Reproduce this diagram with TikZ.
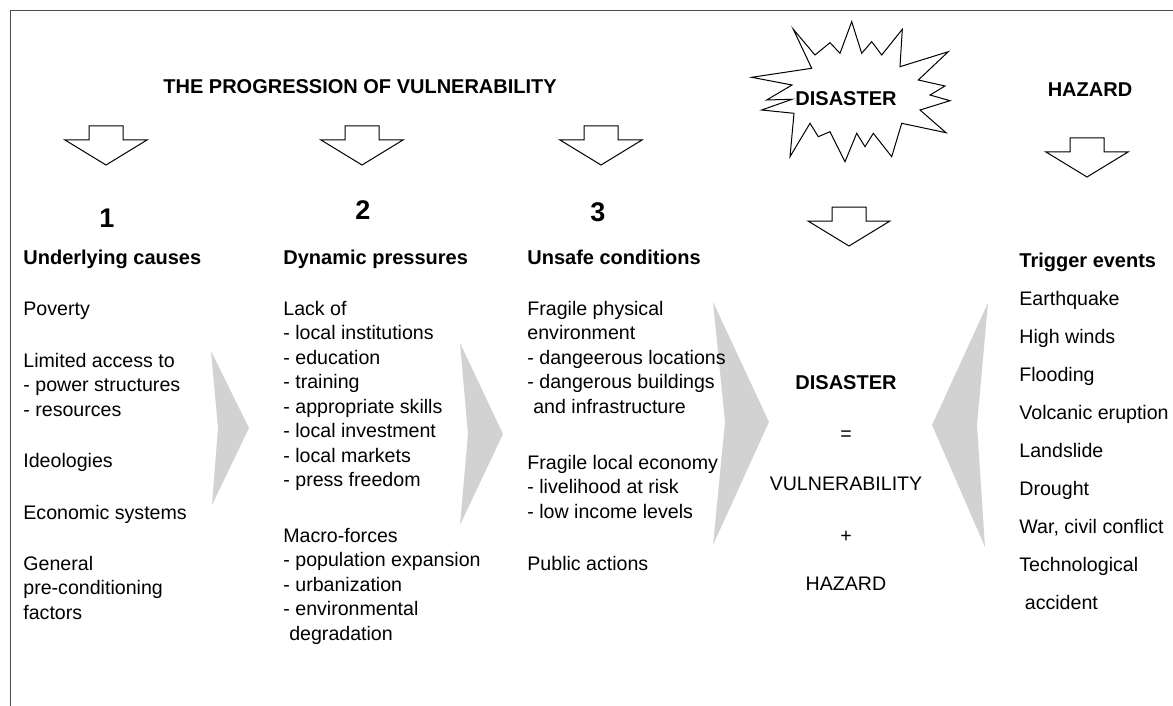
\documentclass[tikz,border=0pt]{standalone}
\usepackage{fontspec}
\setmainfont{Liberation Sans}
\usepackage{tikz}

\tikzstyle{heading} = [font=\bfseries,
anchor=base west,
inner sep=0pt]
\tikzstyle{body} = [align=left,
anchor=base west,
inner sep=0pt]
\tikzstyle{number} = [font=\fontsize{13.5}{16}\selectfont\bfseries,
inner sep=0pt]
\tikzstyle{sum} = [anchor=base,
inner sep=0pt]
\tikzstyle{chevron} = [fill=gray!35,
draw=none]
\tikzstyle{blockarrow} = [draw=black,
line width=0.5pt,
fill=white]
\tikzstyle{burst} = [draw=black,
line width=0.5pt,
fill=white]
\tikzstyle{frameline} = [draw=black!70,
line width=0.6pt]
\tikzset{downarrow/.pic={
\draw [blockarrow] (-17,0) -- (17,0) -- (17,14) -- (41,14) -- (0,39) -- (-41,14) -- (-17,14) -- cycle;
}}

\begin{document}
\begin{tikzpicture}[x=0.5pt, y=-0.5pt, font=\fontsize{9.8}{12.25}\selectfont]
			\useasboundingbox (0,0) rectangle (1173,706);
			
			\draw [frameline] (1173,10.5) -- (10.5,10.5) -- (10.5,706);
			
			% gray chevrons between the columns
			\fill [chevron] (211,351) -- (249,428) -- (212,505) -- (218,428) -- cycle;
			\fill [chevron] (460,343) -- (503,434) -- (460,525) -- (468,434) -- cycle;
			\fill [chevron] (713,302) -- (769,422) -- (713,545) -- (725,422) -- cycle;
			\fill [chevron] (988,303) -- (932,425) -- (985,547) -- (977,425) -- cycle;
			
			% starburst
			\draw [burst] (751.7,77.3) -- (792,85) -- (766.7,100) -- (792,99.3) -- (761.7,110) -- (794,113.3)
			-- (790,156.7) -- (810,123.3) -- (818.3,136.7) -- (830,131.7) -- (845,161.7) -- (856.7,133.3)
			-- (865,146.7) -- (873.3,133.3) -- (891.7,156.7) -- (901.7,123.3) -- (946,132.7) -- (920,110)
			-- (950,100.7) -- (930,95) -- (945,86) -- (918.3,80) -- (948.3,51.7) -- (900,66.7)
			-- (902.3,29.3) -- (881.7,55) -- (871.7,41.7) -- (861.7,53.3) -- (851.7,21.7) -- (840,53.3)
			-- (830,42.7) -- (815,55) -- (793.3,29.3) -- (811.7,68.3) -- cycle;
			
			\node (progression) [heading] at (163,94) {THE PROGRESSION OF VULNERABILITY};
			\node (disaster) [heading, anchor=base] at (846,106) {DISASTER};
			\node (hazard) [heading, anchor=base] at (1090,97) {HAZARD};
			
			\pic at (106,126) {downarrow};
			\pic at (362,126) {downarrow};
			\pic at (601,126) {downarrow};
			\pic at (849,207) {downarrow};
			\pic at (1087,138) {downarrow};
			
			\node (one) [number] at (107,218) {1};
			\node (two) [number] at (363,210) {2};
			\node (three) [number] at (598,212) {3};
			
			% column 1 (multi-line nodes sit on their last baseline)
			\node (causes) [heading] at (23,264) {Underlying causes};
			\node (poverty) [body] at (23,315) {Poverty};
			\node (access) [body] at (23,416) {Limited access to\\- power structures\\- resources};
			\node (ideologies) [body] at (23,467) {Ideologies};
			\node (economic) [body] at (23,519) {Economic systems};
			\node (general) [body] at (23,619) {General\\pre-conditioning\\factors};
			
			% column 2
			\node (pressures) [heading] at (283,264) {Dynamic pressures};
			\node (lack) [body] at (283,486.5) {Lack of\\- local institutions\\- education\\- training\\- appropriate skills\\- local investment\\- local markets\\- press freedom};
			\node (macro) [body] at (283,640) {Macro-forces\\- population expansion\\- urbanization\\- environmental\\\hspace{0.3em}degradation};
			
			% column 3
			\node (unsafe) [heading] at (527,264) {Unsafe conditions};
			\node (physical) [body] at (527,413) {Fragile physical\\environment\\- dangeerous locations\\- dangerous buildings\\\hspace{0.3em}and infrastructure};
			\node (economy) [body] at (527,518) {Fragile local economy\\- livelihood at risk\\- low income levels};
			\node (public) [body] at (527,570) {Public actions};
			
			% column 4
			\node (dis) [heading, anchor=base] at (846,389) {DISASTER};
			\node (eq) [sum] at (846,440) {=};
			\node (vul) [sum] at (846,490) {VULNERABILITY};
			\node (plus) [sum] at (846,542) {+};
			\node (haz) [sum] at (846,590) {HAZARD};
			
			% column 5
			\node (trigger) [heading] at (1019,267) {Trigger events};
			\node (events) [body, font=\fontsize{9.8}{19}\selectfont] at (1019,609) {Earthquake\\High winds\\Flooding\\Volcanic eruption\\Landslide\\Drought\\War, civil conflict\\Technological\\\hspace{0.28em}accident};
			
			\end{tikzpicture}
\end{document}
